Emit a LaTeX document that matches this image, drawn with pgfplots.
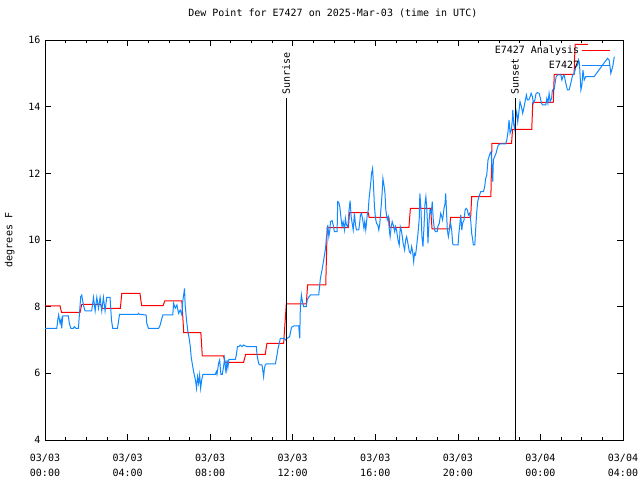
\documentclass[border=0pt]{standalone}
\usepackage{pgfplots}
\pgfplotsset{compat=1.18}
\usepackage{fontspec}
\setmainfont{DejaVu Sans Mono}
\definecolor{obsblue}{RGB}{17,136,255}
\definecolor{anred}{RGB}{255,0,0}
\begin{document}
\fontsize{10bp}{12bp}\selectfont
\begin{tikzpicture}
\useasboundingbox (-45bp,-40bp) rectangle (595bp,440bp);
\begin{axis}[
  at={(0,0)}, anchor=south west,
  scale only axis, width=578bp, height=400bp,
  xmin=0, xmax=28, ymin=4, ymax=16,
  xtick={0,4,8,12,16,20,24,28},
  minor x tick num=3,
  xticklabels={{03/03\\00:00},{03/03\\04:00},{03/03\\08:00},{03/03\\12:00},{03/03\\16:00},{03/03\\20:00},{03/04\\00:00},{03/04\\04:00}},
  xticklabel style={align=center, font=\fontsize{10bp}{15bp}\selectfont, yshift=-11bp},
  ytick={4,6,8,10,12,14,16},
  yticklabel style={font=\fontsize{10bp}{12bp}\selectfont, xshift=-1bp},
  /pgf/number format/assume math mode=true,
  tick align=inside, major tick length=6bp, minor tick length=3bp,
  tick style={black, line width=0.6bp},
  axis line style={black, line width=0.8bp},
  title={Dew Point for E7427 on 2025-Mar-03 (time in UTC)},
  title style={at={(axis description cs:0.498,1.0525)}, anchor=center, font=\fontsize{10bp}{12bp}\selectfont},
  ylabel={degrees F},
  ylabel style={at={(axis description cs:-0.061,0.5)}, anchor=center, font=\fontsize{10bp}{12bp}\selectfont},
  legend plot pos=right,
  legend cell align=right,
  legend image code/.code={\draw[#1] (5bp,0bp) -- (33bp,0bp);},
  legend style={draw=none, fill=none, at={(axis description cs:0.978,0.99)}, anchor=north east, font=\fontsize{10bp}{12bp}\selectfont, row sep=1.5bp, inner sep=0pt},
]
\addplot[anred, line width=1bp] coordinates {
(0,8.02)(0.73,8.02)(0.8,7.83)(1.7,7.83)(1.78,8.07)(2.7,8.07)(2.75,7.95)(3.65,7.95)(3.72,8.40)(4.6,8.40)(4.68,8.03)(5.72,8.03)(5.8,8.17)(6.63,8.17)(6.72,7.22)(7.55,7.22)(7.62,6.52)(8.65,6.52)(8.72,6.33)(9.62,6.33)(9.72,6.57)(10.67,6.57)(10.75,6.90)(11.56,6.90)(11.69,8.08)(12.66,8.08)(12.72,8.65)(13.6,8.65)(13.67,10.37)(14.7,10.37)(14.75,10.82)(15.66,10.82)(15.7,10.68)(16.66,10.68)(16.7,10.38)(17.63,10.38)(17.7,10.95)(18.68,10.95)(18.75,10.33)(19.6,10.33)(19.65,10.68)(20.62,10.68)(20.67,11.30)(21.6,11.30)(21.65,12.9)(22.6,12.9)(22.65,13.32)(23.58,13.32)(23.63,14.13)(24.62,14.13)(24.67,14.97)(25.63,14.97)(25.68,15.87)(26.3,15.87)
};
\addlegendentry{E7427 Analysis}
\addplot[obsblue, line width=1bp] coordinates {
(0,7.35)(0.57,7.35)(0.62,7.6)(0.66,7.75)(0.73,7.5)(0.78,7.62)(0.81,7.35)(0.86,7.72)(1.13,7.72)(1.18,7.5)(1.25,7.35)(1.37,7.35)(1.42,7.4)(1.5,7.35)(1.62,7.35)(1.67,7.8)(1.73,8.3)(1.78,8.35)(1.86,8.05)(1.94,7.87)(2.26,7.87)(2.35,8.28)(2.43,7.87)(2.51,8.28)(2.59,7.95)(2.67,8.28)(2.75,7.87)(2.83,8.28)(2.91,7.87)(2.99,8.28)(3.15,8.28)(3.22,7.6)(3.28,7.35)(3.51,7.35)(3.56,7.55)(3.61,7.77)(4.5,7.77)(4.53,7.8)(4.58,7.77)
(4.9,7.75)(4.93,7.5)(5.01,7.35)(5.5,7.35)(5.58,7.45)(5.66,7.65)(5.71,7.75)(6.19,7.75)(6.23,8.1)(6.31,7.95)(6.39,8.05)(6.47,7.8)(6.55,7.9)(6.63,7.75)(6.68,8.2)(6.74,8.45)(6.76,8.55)(6.79,8.05)(6.84,7.7)(6.91,7.3)(6.97,7.1)(7.04,6.8)(7.08,6.5)(7.13,6.3)(7.20,6.05)(7.25,5.9)(7.29,5.8)(7.34,5.55)(7.39,5.9)(7.44,5.7)(7.49,5.95)(7.54,5.55)(7.59,5.8)(7.65,5.97)(8.25,5.97)(8.30,6.05)(8.33,5.97)(8.41,6.3)(8.46,6.4)(8.52,5.97)(8.59,5.97)(8.65,6.2)(8.70,6.45)(8.77,6.0)(8.82,6.4)(8.86,6.18)(8.91,6.42)(9.22,6.42)(9.27,6.55)(9.32,6.8)
(9.38,6.8)(9.46,6.85)(9.54,6.8)(9.62,6.85)(9.78,6.8)(10.24,6.8)(10.27,6.55)(10.35,6.3)(10.40,6.25)(10.51,6.25)(10.56,6.05)(10.59,5.9)(10.63,6.15)(10.67,6.25)(10.72,6.28)(11.16,6.28)(11.24,6.55)(11.29,6.75)(11.35,6.9)(11.40,7.05)(11.60,7.05)(11.65,7.0)(11.73,7.05)(11.85,7.1)(11.94,7.38)(12.05,7.42)(12.29,7.42)(12.34,7.05)(12.37,8.0)(12.42,8.35)(12.47,8.15)(12.53,8.0)(12.66,8.0)(12.70,8.2)(12.79,8.3)(12.86,8.35)(13.26,8.35)(13.31,8.65)
(13.34,8.85)(13.42,9.1)(13.50,9.4)(13.59,9.75)(13.63,10.05)(13.67,10.25)(13.70,10.45)(13.75,10.1)(13.80,10.3)(13.83,10.55)(13.91,10.58)(13.96,10.45)(14.02,10.25)(14.15,10.25)(14.18,11.15)(14.23,11.13)(14.28,11.0)(14.35,10.6)(14.39,10.4)(14.44,10.55)(14.51,10.3)(14.55,10.65)(14.60,10.45)(14.67,10.4)(14.73,10.9)(14.78,11.18)(14.83,10.7)(14.88,10.5)(14.93,10.3)(14.99,10.8)(15.04,10.45)(15.09,10.3)(15.20,10.3)(15.25,10.55)(15.28,10.75)(15.33,10.8)(15.38,10.65)(15.45,10.35)(15.49,10.55)(15.54,10.3)(15.61,10.75)(15.66,10.9)(15.70,11.25)(15.77,11.65)(15.82,12.0)(15.87,12.15)(15.90,11.8)(15.96,11.0)(16.01,10.65)(16.06,10.5)(16.12,10.45)(16.17,10.3)(16.22,10.5)(16.27,10.9)(16.32,11.3)(16.37,11.85)(16.42,11.65)(16.47,11.4)(16.51,10.9)(16.58,10.6)(16.63,10.7)(16.68,10.3)(16.72,10.1)(16.77,10.4)(16.82,10.55)(16.87,10.45)(16.94,10.25)(16.98,10.4)(17.03,10.3)(17.10,10.0)(17.16,9.85)(17.21,10.4)(17.26,10.3)(17.31,10.1)(17.35,9.9)(17.42,9.7)(17.47,10.0)(17.52,10.1)(17.58,9.9)(17.65,9.65)(17.71,9.6)(17.76,9.8)(17.81,9.65)(17.86,9.35)(17.90,9.6)(17.95,9.55)(18.00,9.8)(18.07,10.2)(18.13,10.65)(18.16,11.4)
(18.21,10.95)(18.26,10.1)(18.31,9.8)(18.36,10.4)(18.41,11.1)(18.45,11.3)(18.49,11.0)(18.52,10.6)(18.55,9.9)(18.60,10.5)(18.65,10.9)(18.71,10.8)(18.76,11.15)(18.81,10.6)(18.87,10.3)(18.92,10.25)(19.00,10.25)(19.03,10.4)(19.10,10.5)(19.17,10.8)(19.22,10.7)(19.26,10.6)(19.33,10.95)(19.38,11.1)(19.41,11.4)(19.44,11.0)(19.49,10.3)(19.54,10.1)(19.59,10.3)(19.65,10.5)(19.70,10.3)(19.75,9.9)(19.78,9.85)(20.01,9.85)(20.05,10.2)(20.10,10.5)(20.14,10.75)(20.19,10.3)(20.23,10.5)(20.30,10.6)(20.35,10.9)(20.40,10.95)(20.46,10.9)(20.51,10.75)(20.56,10.8)(20.62,10.6)(20.67,10.2)(20.72,10.0)(20.75,9.85)(20.82,9.85)(20.86,10.3)(20.91,10.8)(20.96,11.15)(21.03,11.32)(21.11,11.45)(21.24,11.45)(21.30,11.6)(21.35,11.85)(21.40,11.95)(21.46,12.4)(21.51,12.5)(21.56,12.6)(21.61,12.65)(21.66,12.1)(21.69,11.75)(21.72,12.4)(21.78,12.5)(21.85,12.6)(21.91,12.75)(21.96,12.85)(22.03,12.88)(22.32,12.88)(22.37,13.0)(22.43,13.25)(22.48,13.6)(22.53,13.2)(22.59,13.3)(22.64,13.6)
(22.66,13.9)(22.71,13.45)(22.76,13.3)(22.80,13.7)(22.85,13.85)(22.90,13.55)(22.95,13.8)(23.01,14.15)(23.08,14.0)(23.14,13.8)(23.21,14.0)(23.27,14.2)(23.32,14.35)(23.37,14.2)(23.44,14.2)(23.50,14.3)(23.55,14.4)(23.61,14.3)(23.66,14.1)(23.73,14.2)(23.79,14.4)(23.86,14.42)(23.94,14.4)(23.98,14.3)(24.05,14.1)(24.11,14.05)(24.26,14.05)(24.31,14.25)(24.36,14.1)(24.42,14.4)(24.47,14.15)(24.54,14.25)(24.58,14.5)(24.66,14.5)(24.71,14.7)(24.76,14.9)(24.83,14.95)(24.99,14.95)(25.04,14.8)(25.09,14.9)(25.15,14.95)(25.23,14.7)(25.31,14.5)(25.39,14.5)(25.47,14.7)(25.56,14.95)(25.64,15.0)(25.72,15.2)(25.80,15.25)(25.85,15.4)(25.89,15.3)(25.96,14.5)(26.01,14.65)(26.06,15.1)(26.12,14.8)(26.2,14.9)(26.6,14.9)(27.25,15.45)(27.33,15.4)(27.41,15.0)(27.5,15.2)(27.58,15.5)
};
\addlegendentry{E7427}
\addplot[black, line width=0.8bp, forget plot] coordinates {(11.68,4) (11.68,14.25)};
\addplot[black, line width=0.8bp, forget plot] coordinates {(22.77,4) (22.77,14.25)};
\node[rotate=90, anchor=west, inner sep=2bp] at (axis cs:11.68,14.3) {Sunrise};
\node[rotate=90, anchor=west, inner sep=2bp] at (axis cs:22.77,14.3) {Sunset};
\end{axis}
\end{tikzpicture}
\end{document}
